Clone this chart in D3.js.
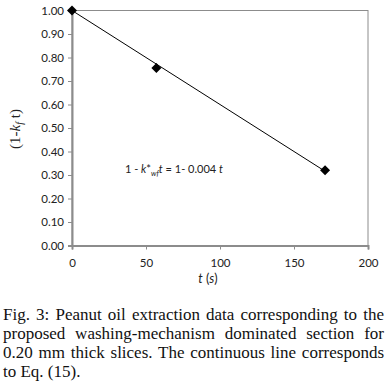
<!DOCTYPE html>
<html>
<head>
<meta charset="utf-8">
<script src="https://cdn.jsdelivr.net/npm/d3@7"></script>
<style>
  body { margin: 0; background: #fff; }
</style>
</head>
<body>
<div id="container"></div>
<script>
/* DATA */
const times = [0, 57, 171];
const values = [1.00, 0.755, 0.32];
const yTicks = [0, 0.1, 0.2, 0.3, 0.4, 0.5, 0.6, 0.7, 0.8, 0.9, 1.0];
const xTicks = [0, 50, 100, 150, 200];
const fitSlope = 0.004;
const fitRange = [0, 171];
const captionLines = [
  "Fig. 3: Peanut oil extraction data corresponding to the",
  "proposed washing-mechanism dominated section for",
  "0.20 mm thick slices. The continuous line corresponds",
  "to Eq. (15)."
];

/* CONSTANTS */
const width = 387, height = 392,
  margin = { left: 72, right: 19, top: 10.5, bottom: 146.5 };

const xScale = d3.scaleLinear().domain([0, 200]).range([margin.left, width - margin.right]);
const yScale = d3.scaleLinear().domain([0, 1]).range([height - margin.bottom, margin.top]);

const svg = d3.select("#container").append("svg")
  .attr("width", width).attr("height", height);

const axisFont = "Lato, 'Open Sans', sans-serif";
const serif = "'Liberation Serif', 'DejaVu Serif', serif";

// frame (top/right)
svg.append("rect")
  .attr("x", xScale(0)).attr("y", yScale(1))
  .attr("width", xScale(200) - xScale(0)).attr("height", yScale(0) - yScale(1))
  .attr("fill", "none").attr("stroke", "#8c8c8c").attr("stroke-width", 1);

// y axis
const yAxis = d3.axisLeft(yScale).tickValues(yTicks).tickSize(4).tickFormat(d3.format(".2f"));
const gy = svg.append("g").attr("transform", `translate(${xScale(0)},0)`).call(yAxis);
gy.select(".domain").attr("stroke", "#8c8c8c").attr("stroke-width", 2);
gy.selectAll(".tick line").attr("stroke", "#8c8c8c");
gy.selectAll(".tick text").attr("font-family", axisFont).attr("font-size", 11.5)
  .attr("fill", "#222").attr("x", -8);

// x axis
const xAxis = d3.axisBottom(xScale).tickValues(xTicks).tickSize(4);
const gx = svg.append("g").attr("transform", `translate(0,${yScale(0)})`).call(xAxis);
gx.select(".domain").attr("stroke", "#8c8c8c").attr("stroke-width", 2);
gx.selectAll(".tick line").attr("stroke", "#8c8c8c");
gx.selectAll(".tick text").attr("font-family", axisFont).attr("font-size", 11.5)
  .attr("fill", "#222").attr("y", 13);

// fit line
const line = d3.line().x(d => xScale(d)).y(d => yScale(1 - fitSlope * d));
svg.append("path").datum(fitRange).attr("d", line)
  .attr("fill", "none").attr("stroke", "#000").attr("stroke-width", 1);

// diamonds
svg.selectAll(".pt").data(times.map((t, i) => [t, values[i]])).join("path")
  .attr("class", "pt")
  .attr("transform", d => `translate(${xScale(d[0])},${yScale(d[1])}) rotate(45)`)
  .attr("d", d3.symbol(d3.symbolSquare, 50))
  .attr("fill", "#000");

// equation annotation
const eq = svg.append("text").attr("x", 125).attr("y", 173)
  .attr("font-family", axisFont).attr("font-size", 11).attr("fill", "#222");
eq.append("tspan").text("1 - ");
eq.append("tspan").attr("font-style", "italic").text("k");
eq.append("tspan").text("*");
eq.append("tspan").attr("font-style", "italic").attr("font-size", 7.5).attr("dy", 3).text("wf");
eq.append("tspan").attr("font-style", "italic").attr("dy", -3).text("t");
eq.append("tspan").text(" = 1- 0.004 ");
eq.append("tspan").attr("font-style", "italic").text("t");
const eqW = eq.node().getComputedTextLength();
if (eqW > 98) eq.attr("textLength", 98).attr("lengthAdjust", "spacingAndGlyphs");

// x axis title
const xt = svg.append("text").attr("x", 208).attr("y", 283).attr("text-anchor", "middle")
  .attr("font-family", axisFont).attr("font-size", 12.5).attr("fill", "#222");
xt.append("tspan").attr("font-style", "italic").text("t");
xt.append("tspan").text(" (");
xt.append("tspan").attr("font-style", "italic").text("s");
xt.append("tspan").text(")");

// y axis title
const yt = svg.append("text").attr("transform", `translate(20,${(yScale(0) + yScale(1)) / 2 + 1}) rotate(-90)`)
  .attr("text-anchor", "middle")
  .attr("font-family", serif).attr("font-size", 15).attr("fill", "#222");
yt.append("tspan").text("(1-");
yt.append("tspan").attr("font-style", "italic").text("k");
yt.append("tspan").attr("font-style", "italic").attr("font-size", 10).attr("dy", 3).text("f");
yt.append("tspan").attr("dy", -3).text(" t)");

// caption, justified by widening word gaps
const capW = 381;
svg.selectAll(".cap").data(captionLines).join("text")
  .attr("class", "cap")
  .attr("x", 3).attr("y", (d, i) => 320 + i * 19)
  .attr("font-family", serif).attr("font-size", 17).attr("fill", "#111")
  .text(d => d)
  .each(function (d, i) {
    if (i === captionLines.length - 1) return;
    const el = d3.select(this);
    const natural = this.getComputedTextLength();
    const gaps = d.split(" ").length - 1;
    if (natural < capW && gaps > 0) {
      el.style("word-spacing", `${(capW - natural) / gaps}px`);
    } else {
      el.attr("textLength", capW).attr("lengthAdjust", "spacing");
    }
  });
</script>
</body>
</html>
